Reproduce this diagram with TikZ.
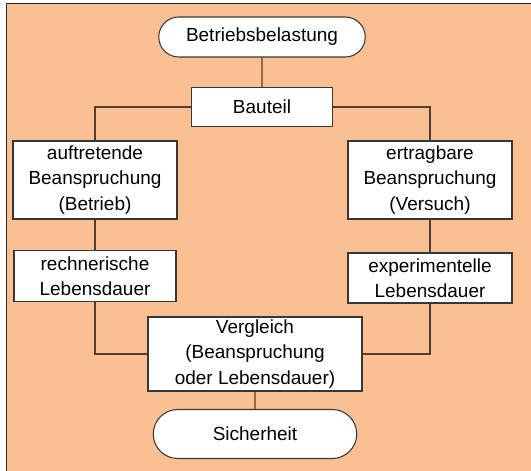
\documentclass[tikz,border=0pt]{standalone}
\usepackage{fontspec}
\setmainfont{Liberation Sans}
\usetikzlibrary{shapes.misc}

\definecolor{peach}{RGB}{251,192,145}
\definecolor{wire}{RGB}{78,62,52}
\definecolor{edge}{RGB}{55,55,55}

\begin{document}
\begin{tikzpicture}[
  block/.style={rectangle, draw=edge, fill=white, line width=0.6pt, inner sep=1pt, align=center},
  term/.style={rounded rectangle, draw=edge, fill=white, line width=0.6pt, inner sep=1pt, align=center},
  link/.style={draw=wire, line width=0.6pt},
  font=\fontsize{10.8}{14.4}\selectfont
]
\useasboundingbox (0,0) rectangle (10.62,-9.42);

% Background and frame
\fill[peach] (0.13,-0.07) rectangle (10.62,-9.42);
\draw[black!85, line width=1.1pt] (0.13,-9.42) -- (0.13,-0.07) -- (10.62,-0.07);

\node[term, minimum width=4.2cm, minimum height=0.8cm] (load) at (5.24,-0.74) {Betriebsbelastung};
\node[block, below of=load, node distance=1.4cm, minimum width=2.82cm, minimum height=0.78cm] (part) {Bauteil};

% Left and right branch
\node[block, minimum width=3.28cm, minimum height=1.56cm] (stressop) at (1.9,-3.6) {auftretende\\Beanspruchung\\(Betrieb)};
\node[block, minimum width=3.28cm, minimum height=1.56cm] (stressexp) at (8.6,-3.6) {ertragbare\\Beanspruchung\\(Versuch)};
\node[block, below of=stressop, node distance=1.92cm, minimum width=3.24cm, minimum height=1.02cm] (lifecalc) {rechnerische\\Lebensdauer};
\node[block, below of=stressexp, node distance=1.96cm, minimum width=3.28cm, minimum height=1.0cm] (lifeexp) {experimentelle\\Lebensdauer};

\node[block, minimum width=4.28cm, minimum height=1.48cm] (compare) at (5.1,-7.08) {Vergleich\\(Beanspruchung\\oder Lebensdauer)};
\node[term, below of=compare, node distance=1.6cm, minimum width=4.14cm, minimum height=0.98cm] (safety) {Sicherheit};

% Lines
\draw[link] (load) -- (part);
\draw[link] (part.west) -| (stressop.north);
\draw[link] (part.east) -| (stressexp.north);
\draw[link] (stressop) -- (lifecalc);
\draw[link] (stressexp) -- (lifeexp);
\draw[link] (lifecalc.south) |- (compare.west);
\draw[link] (lifeexp.south) |- (compare.east);
\draw[link] (compare) -- (safety);
\end{tikzpicture}
\end{document}
